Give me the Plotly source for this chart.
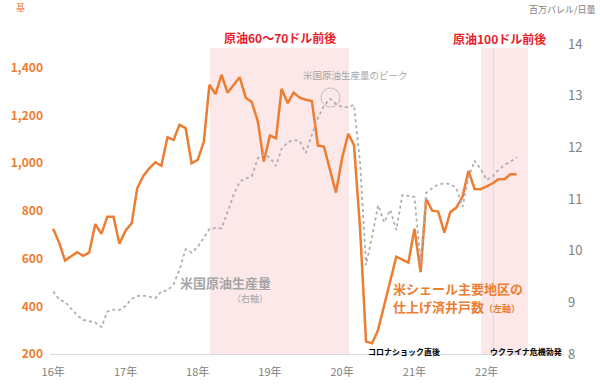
import pandas as pd
import plotly.graph_objects as go

# Monthly data Jan 2016 - Jun 2022
months = pd.date_range("2016-01-01", periods=78, freq="MS").strftime("%Y-%m-%d").tolist()

# US shale key regions: completed wells (left axis)
wells = [725, 666, 592, 608, 627, 612, 625, 745, 704, 776,
         776, 662, 717, 748, 895, 947, 979, 1004, 989, 1109,
         1098, 1161, 1147, 1000, 1014, 1091, 1329, 1290, 1371, 1296,
         1328, 1361, 1275, 1257, 1175, 1007, 1116, 1105, 1312, 1252,
         1296, 1275, 1266, 1261, 1074, 1070, 972, 877, 1021, 1123,
         1077, 725, 252, 245, 301, 401, 506, 608, 596, 583,
         725, 543, 850, 801, 797, 709, 795, 814, 860, 968,
         892, 891, 903, 916, 933, 933, 954, 954]

# US crude oil production, million barrels/day (right axis)
production = [9.21, 9.05, 9.01, 8.87, 8.75, 8.66, 8.63, 8.61, 8.52, 8.82,
              8.86, 8.85, 8.93, 9.07, 9.12, 9.13, 9.11, 9.08, 9.21, 9.23,
              9.35, 9.63, 10.03, 9.96, 10.07, 10.25, 10.42, 10.44, 10.43, 10.75,
              11.08, 11.33, 11.40, 11.44, 11.79, 11.87, 11.80, 11.64, 11.97, 12.10,
              12.14, 12.12, 11.89, 12.24, 12.57, 12.80, 12.94, 12.84, 12.78, 12.78,
              12.82, 11.70, 9.72, 10.28, 10.88, 10.55, 10.79, 10.40, 11.08, 11.06,
              11.04, 9.76, 11.12, 11.21, 11.28, 11.30, 11.29, 11.21, 10.85, 11.41,
              11.74, 11.58, 11.37, 11.44, 11.56, 11.66, 11.72, 11.81]

year_ticks = ["2016-01-01", "2017-01-01", "2018-01-01", "2019-01-01",
              "2020-01-01", "2021-01-01", "2022-01-01"]
year_labels = ["16年", "17年", "18年", "19年", "20年", "21年", "22年"]
left_ticks = [200, 400, 600, 800, 1000, 1200, 1400]
right_ticks = [8, 9, 10, 11, 12, 13, 14]

ORANGE = "#ED7D31"
GREY = "#A6A6A6"
RED = "#E8202A"
PINK = "#FCE8E8"
FONT = "Noto Sans CJK JP"

L, R, T, B, W, H = 50, 37, 44, 30, 600, 384


def px(x):
    return (x - L) / (W - L - R)


def py(y):
    return (H - B - y) / (H - B - T)


fig = go.Figure()
fig.add_trace(go.Scatter(x=months, y=production, yaxis="y2", mode="lines",
                         line=dict(color="#AFAFAF", width=1.8, dash="dot"),
                         showlegend=False, hoverinfo="skip"))
fig.add_trace(go.Scatter(x=months, y=wells, mode="lines",
                         line=dict(color=ORANGE, width=2.5),
                         showlegend=False, hoverinfo="skip"))

shapes = [
    dict(type="rect", xref="x", yref="paper", x0="2018-03-04", x1="2020-02-05",
         y0=0, y1=py(48), fillcolor=PINK, line=dict(width=0), layer="below"),
    dict(type="rect", xref="x", yref="paper", x0="2021-12-03", x1="2022-07-29",
         y0=0, y1=py(48), fillcolor=PINK, line=dict(width=0), layer="below"),
    dict(type="line", xref="x", yref="paper", x0="2022-02-04", x1="2022-02-04",
         y0=0, y1=py(48), line=dict(color="#E6D6D6", width=1), layer="below"),
    dict(type="circle", xref="paper", yref="paper", x0=px(321), x1=px(340),
         y0=py(107), y1=py(88), line=dict(color="#BFBFBF", width=1)),
]

def ann(text, x, y, size, color, bold=False, xanchor="center"):
    return dict(text=text, x=px(x), y=py(y), xref="paper", yref="paper",
                showarrow=False, xanchor=xanchor, yanchor="middle",
                font=dict(family=FONT, size=size, color=color,
                          weight="bold" if bold else "normal"))

annotations = [
    ann("基", 20, 8, 9, ORANGE),
    ann("百万バレル/日量", 598, 9, 9, "#808080", xanchor="right"),
    ann("原油60〜70ドル前後", 280, 37, 12, RED, bold=True),
    ann("原油100ドル前後", 499, 38, 12, RED, bold=True),
    ann("米国原油生産量のピーク", 355, 75, 9.5, GREY),
    ann("米国原油生産量", 225, 282, 13, GREY, bold=True),
    ann("（右軸）", 250, 298, 9, GREY),
    ann("米シェール主要地区の", 391, 288, 13, ORANGE, bold=True, xanchor="left"),
    ann("仕上げ済井戸数<span style='font-size:9px'>（左軸）</span>", 391, 306, 13,
        ORANGE, bold=True, xanchor="left"),
    ann("コロナショック直後", 404, 351, 8, "#000000", bold=True),
    ann("ウクライナ危機勃発", 526, 351, 8, "#000000", bold=True),
]

fig.update_layout(
    width=W, height=H,
    margin=dict(l=L, r=R, t=T, b=B, autoexpand=False),
    paper_bgcolor="white", plot_bgcolor="white",
    font=dict(family=FONT),
    showlegend=False,
    shapes=shapes,
    annotations=annotations,
    xaxis=dict(type="date", range=["2015-12-16", "2023-01-22"],
               tickvals=year_ticks, ticktext=year_labels,
               showgrid=False, zeroline=False, automargin=False,
               showline=True, linecolor="#D9D9D9", linewidth=1,
               ticks="", ticklabelstandoff=8,
               tickfont=dict(family=FONT, size=11, color="#808080")),
    yaxis=dict(range=[200, 1500], tickvals=left_ticks, tickformat=",d",
               showgrid=False, zeroline=False, showline=False, ticks="",
               ticklabelstandoff=6, automargin=False,
               tickfont=dict(family=FONT, size=12, color=ORANGE, weight="bold")),
    yaxis2=dict(range=[8, 14], tickvals=right_ticks, overlaying="y", side="right",
                showgrid=False, zeroline=False, showline=False, ticks="",
                ticklabelstandoff=4, automargin=False,
                tickfont=dict(family=FONT, size=13, color="#808080")),
)

fig.write_html("out.html", config={"displayModeBar": False},
               post_script="document.body.style.margin='0px';")
